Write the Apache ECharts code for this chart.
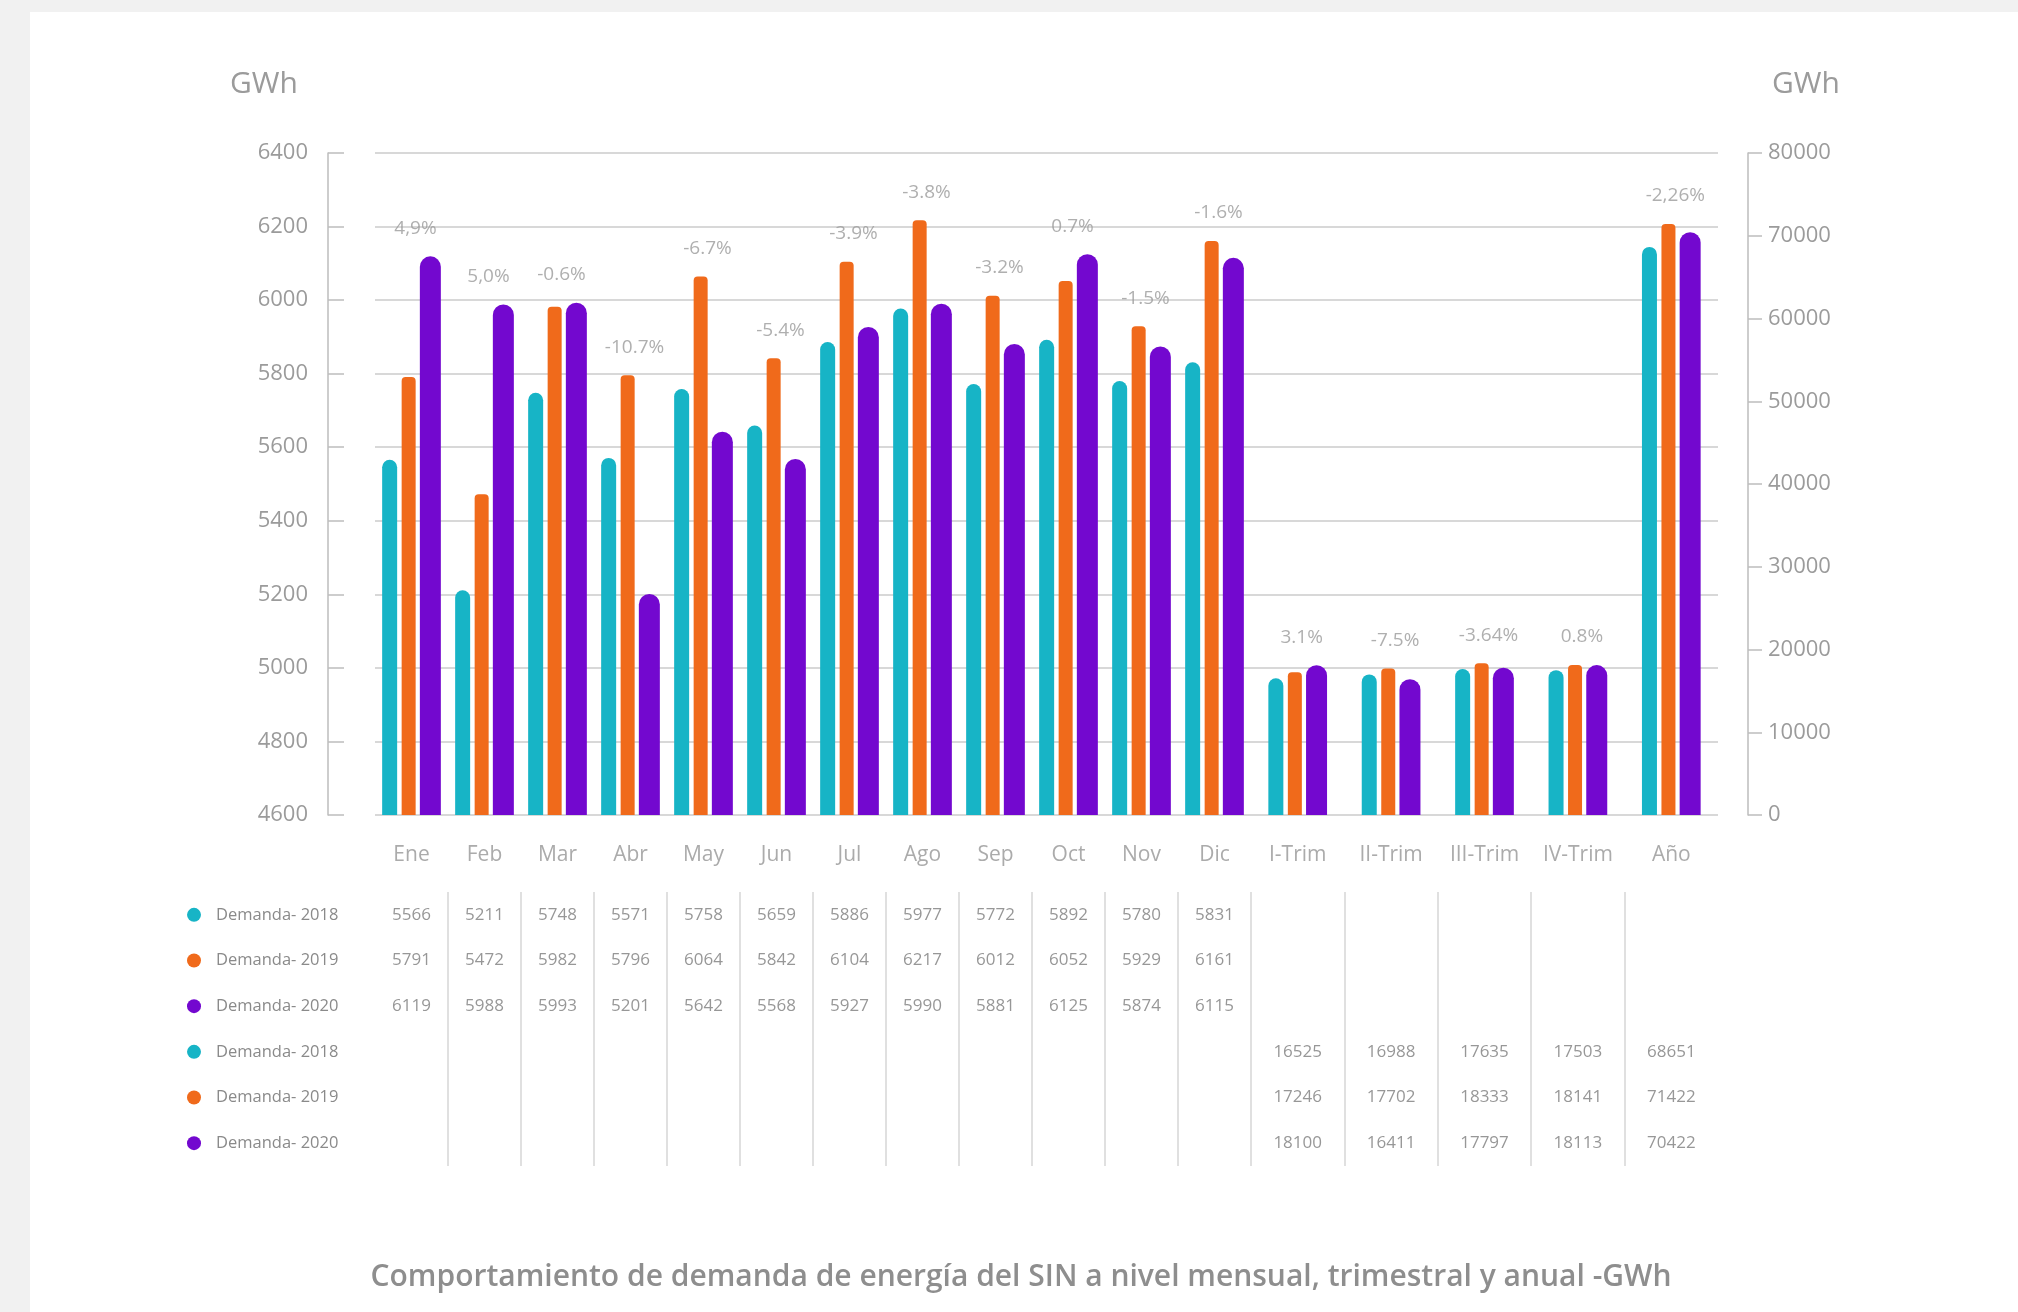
<!DOCTYPE html>
<html><head><meta charset="utf-8">
<script src="https://cdn.jsdelivr.net/npm/echarts@6/dist/echarts.min.js"></script>
<style>
html,body{margin:0;padding:0;background:#f1f1f1;}
#bg{position:absolute;left:30px;top:12px;width:1988px;height:1300px;background:#fff;}
#chart{position:absolute;left:0;top:0;width:2018px;height:1312px;}
</style></head><body>
<div id="bg"></div><div id="chart"></div>
<script>
const monthCategories = ['Ene','Feb','Mar','Abr','May','Jun','Jul','Ago','Sep','Oct','Nov','Dic'];
const quarterCategories = ['I-Trim','II-Trim','III-Trim','IV-Trim','Año'];
const demand2018Months = [5566,5211,5748,5571,5758,5659,5886,5977,5772,5892,5780,5831];
const demand2019Months = [5791,5472,5982,5796,6064,5842,6104,6217,6012,6052,5929,6161];
const demand2020Months = [6119,5988,5993,5201,5642,5568,5927,5990,5881,6125,5874,6115];
const demand2018Quarters = [16525,16988,17635,17503,68651];
const demand2019Quarters = [17246,17702,18333,18141,71422];
const demand2020Quarters = [18100,16411,17797,18113,70422];
const pctMonths = ['4,9%','5,0%','-0.6%','-10.7%','-6.7%','-5.4%','-3.9%','-3.8%','-3.2%','0.7%','-1.5%','-1.6%'];
const pctQuarters = ['3.1%','-7.5%','-3.64%','0.8%','-2,26%'];
const seriesNames = ['Demanda- 2018','Demanda- 2019','Demanda- 2020'];
const legendNames = ['Demanda- 2018','Demanda- 2019','Demanda- 2020','Demanda- 2018','Demanda- 2019','Demanda- 2020'];
const leftTicks = {min:4600, max:6400, interval:200};
const rightTicks = {min:0, max:80000, interval:10000};
const captionText = 'Comportamiento de demanda de energía del SIN a nivel mensual, trimestral y anual -GWh';

const FONT = '"Open Sans", sans-serif';
const GREY = '#9b9b9b';
const colors = ['#17b4c6','#f06a1b','#7308cf'];
const barWidths = [15,14,21];
const radii = [[7.5,7.5,0,0],[4,4,0,0],[10.5,10.5,0,0]];
const monthData = [demand2018Months, demand2019Months, demand2020Months];
const quarterData = [demand2018Quarters, demand2019Quarters, demand2020Quarters];
const rowKeys = ['r0','r1','r2','r3','r4','r5'];

const chart = echarts.init(document.getElementById('chart'), null, {renderer:'canvas'});

const series = [];
for (let s = 0; s < 3; s++) {
  series.push({type:'bar', name:seriesNames[s], xAxisIndex:0, yAxisIndex:0, data:monthData[s],
    barWidth:barWidths[s], barGap:'30%', itemStyle:{color:colors[s], borderRadius:radii[s]}, silent:true});
}
for (let s = 0; s < 3; s++) {
  series.push({type:'bar', name:seriesNames[s], xAxisIndex:1, yAxisIndex:1, data:quarterData[s],
    barWidth:barWidths[s], barGap:'30%', itemStyle:{color:colors[s], borderRadius:radii[s]}, silent:true});
}
const pctLabel = (arr) => ({show:true, position:'top', distance:18, offset:[4,0], color:GREY, fontSize:19, fontFamily:FONT,
  formatter: p => arr[p.dataIndex]});
series.push({type:'scatter', xAxisIndex:0, yAxisIndex:0, symbolSize:1, itemStyle:{color:'rgba(0,0,0,0)'}, silent:true,
  data: monthCategories.map((c,i) => Math.max(demand2018Months[i], demand2019Months[i], demand2020Months[i])),
  label: pctLabel(pctMonths)});
series.push({type:'scatter', xAxisIndex:1, yAxisIndex:1, symbolSize:1, itemStyle:{color:'rgba(0,0,0,0)'}, silent:true,
  data: quarterCategories.map((c,i) => Math.max(demand2018Quarters[i], demand2019Quarters[i], demand2020Quarters[i])),
  label: pctLabel(pctQuarters)});

const tableLabel = {show:true, position:'inside', color:'#7d7d7d', fontSize:17, fontFamily:FONT, formatter: p => String(p.value[2])};
const monthTable = [];
for (let s = 0; s < 3; s++) monthCategories.forEach((c,i) => monthTable.push([c, rowKeys[s], monthData[s][i]]));
const quarterTable = [];
for (let s = 0; s < 3; s++) quarterCategories.forEach((c,i) => quarterTable.push([c, rowKeys[s+3], quarterData[s][i]]));
series.push({type:'scatter', xAxisIndex:2, yAxisIndex:2, symbolSize:1, itemStyle:{color:'rgba(0,0,0,0)'}, silent:true, data:monthTable, label:tableLabel});
series.push({type:'scatter', xAxisIndex:3, yAxisIndex:3, symbolSize:1, itemStyle:{color:'rgba(0,0,0,0)'}, silent:true, data:quarterTable, label:tableLabel});

const catX = (idx, data) => ({gridIndex:idx, type:'category', data:data,
  axisLine:{show:false}, axisTick:{show:false},
  axisLabel:{show:true, interval:0, margin:30, color:'#ababab', fontSize:21, fontFamily:FONT},
  splitLine:{show:false}});
const tableX = (idx, data, showMax) => ({gridIndex:idx, type:'category', data:data,
  axisLine:{show:false}, axisTick:{show:false}, axisLabel:{show:false},
  splitLine:{show:true, interval:0, showMinLine:false, showMaxLine:showMax, lineStyle:{color:'#d6d6d6', width:1.5}}});

const rich = {t:{padding:[0,0,0,15], fontSize:16.5, color:'#8a8a8a', fontFamily:FONT}};
colors.forEach((c,i) => { rich['d'+i] = {width:14, height:14, borderRadius:7, backgroundColor:c}; });

const option = {
  animation:false,
  textStyle:{fontFamily:FONT},
  grid:[
    {left:375, top:153, width:876, height:662},
    {left:1251, top:153, width:467, height:662},
    {left:375, top:892, width:876, height:274},
    {left:1251, top:892, width:467, height:274},
    {left:375, top:153, width:1343, height:662}
  ],
  xAxis:[
    catX(0, monthCategories),
    catX(1, quarterCategories),
    tableX(2, monthCategories, true),
    tableX(3, quarterCategories, false),
    {gridIndex:4, type:'value', min:0, max:1, show:false}
  ],
  yAxis:[
    {gridIndex:0, type:'value', min:leftTicks.min, max:leftTicks.max, interval:leftTicks.interval, show:false},
    {gridIndex:1, type:'value', min:rightTicks.min, max:rightTicks.max, interval:rightTicks.interval, position:'right', offset:30,
      axisLine:{show:true, onZero:false, lineStyle:{color:'#bdbdbd', width:1.5}},
      axisTick:{show:true, inside:false, length:14, lineStyle:{color:'#bdbdbd', width:1.5}},
      axisLabel:{margin:20, color:GREY, fontSize:22, fontFamily:FONT, formatter: v => String(v)},
      splitLine:{show:false}},
    {gridIndex:2, type:'category', data:rowKeys, inverse:true,
      axisLine:{show:false}, axisTick:{show:false}, splitLine:{show:false},
      axisLabel:{show:true, interval:0, align:'left', margin:188,
        formatter:(v, idx) => '{d' + (idx % 3) + '|}{t|' + legendNames[idx] + '}', rich:rich}},
    {gridIndex:3, type:'category', data:rowKeys, inverse:true, show:false},
    {gridIndex:4, type:'value', min:leftTicks.min, max:leftTicks.max, interval:leftTicks.interval, position:'left', offset:47,
      axisLine:{show:true, onZero:false, lineStyle:{color:'#bdbdbd', width:1.5}},
      axisTick:{show:true, inside:true, length:16, lineStyle:{color:'#bdbdbd', width:1.5}},
      axisLabel:{margin:20, color:GREY, fontSize:22, fontFamily:FONT, formatter: v => String(v)},
      splitLine:{show:true, lineStyle:{color:'#cbcbcb', width:1.5}}}
  ],
  graphic:[
    {type:'text', x:264, y:84, style:{text:'GWh', align:'center', verticalAlign:'middle', fill:GREY, font:'500 30px "Open Sans"'}},
    {type:'text', x:1806, y:84, style:{text:'GWh', align:'center', verticalAlign:'middle', fill:GREY, font:'500 30px "Open Sans"'}},
    {type:'text', x:1021, y:1277, style:{text:captionText, align:'center', verticalAlign:'middle', fill:'#8e8e8e', font:'600 30px "Open Sans"'}}
  ],
  series: series
};
chart.setOption(option);
</script>
</body></html>
